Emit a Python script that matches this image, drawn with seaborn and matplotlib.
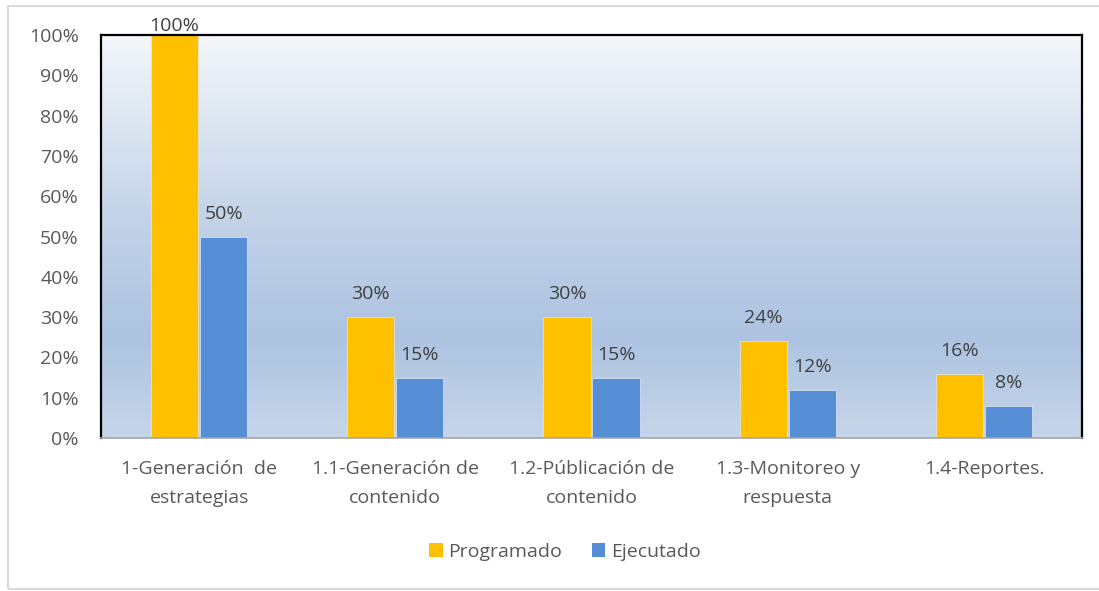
import numpy as np
import pandas as pd
import matplotlib
matplotlib.use("Agg")
import matplotlib.pyplot as plt
from matplotlib.colors import LinearSegmentedColormap
from matplotlib.patches import Rectangle, Patch
import seaborn as sns

categories = ["1-Generación  de\nestrategias", "1.1-Generación de\ncontenido",
              "1.2-Públicación de\ncontenido", "1.3-Monitoreo y\nrespuesta", "1.4-Reportes."]
programado = [100, 30, 30, 24, 16]
ejecutado = [50, 15, 15, 12, 8]
series_names = ["Programado", "Ejecutado"]
colors = ["#FFC000", "#558ED5"]

df = pd.DataFrame({
    "cat": categories * 2,
    "serie": [series_names[0]] * 5 + [series_names[1]] * 5,
    "valor": programado + ejecutado,
})

sns.set_theme(style="white")
plt.rcParams["font.family"] = ["Open Sans", "DejaVu Sans"]

fig = plt.figure(figsize=(10.99, 5.91), dpi=100)
ax = fig.add_axes([101/1099, 1-438/591, (1082-101)/1099, (438-35)/591])

# outer chart border
fig.patches.append(Rectangle((8/1099, 1-589/591), 1.2, (589-6)/591, transform=fig.transFigure,
                             fill=False, edgecolor="#d9d9d9", linewidth=1.5, zorder=0))

# gradient background
cmap = LinearSegmentedColormap.from_list("bg", [(0, "#c6d5e9"), (0.25, "#adc3e1"),
                                               (0.55, "#c3d3e8"), (1.0, "#f4f7fb")])
grad = np.linspace(0, 1, 256).reshape(-1, 1)
ax.imshow(grad, cmap=cmap, aspect="auto", origin="lower", extent=[0, 1, 0, 1],
          transform=ax.transAxes, zorder=0)

sns.barplot(data=df, x="cat", y="valor", hue="serie", palette=colors, width=0.5, gap=0.04,
            ax=ax, zorder=2, saturation=1, legend=False, linewidth=0.5, edgecolor="#dfe8f3")

ax.set_xlim(-0.5, 4.5)
ax.set_ylim(0, 100)
ax.set_yticks(range(0, 101, 10))
ax.set_yticklabels([f"{v}%" for v in range(0, 101, 10)])
ax.set_xlabel("")
ax.set_ylabel("")
ax.tick_params(axis="y", length=0, pad=16, labelsize=14, labelcolor="#595959")
ax.tick_params(axis="x", length=0, pad=16, labelsize=14, labelcolor="#595959")
for lab in ax.get_xticklabels():
    lab.set_linespacing(1.8)

for s in ["top", "left", "right"]:
    ax.spines[s].set_color("black")
    ax.spines[s].set_linewidth(1.6)
ax.spines["bottom"].set_color("#a6a6a6")
ax.spines["bottom"].set_linewidth(1.2)

for cont in ax.containers:
    for bar in cont:
        h = bar.get_height()
        off = 0 if h >= 100 else 10
        ax.annotate(f"{h:.0f}%", (bar.get_x() + bar.get_width()/2, h), xytext=(0, off),
                    textcoords="offset points", ha="center", va="bottom",
                    fontsize=14, color="#404040", annotation_clip=False, zorder=5)

handles = [Patch(facecolor=c, edgecolor="none") for c in colors]
fig.legend(handles, series_names, loc="center", bbox_to_anchor=(565/1099, 1-552/591), ncol=2,
           frameon=False, fontsize=14, handlelength=0.7, handleheight=0.7, handletextpad=0.3,
           columnspacing=1.5, labelcolor="#595959")

fig.savefig("out.png", dpi=100)
